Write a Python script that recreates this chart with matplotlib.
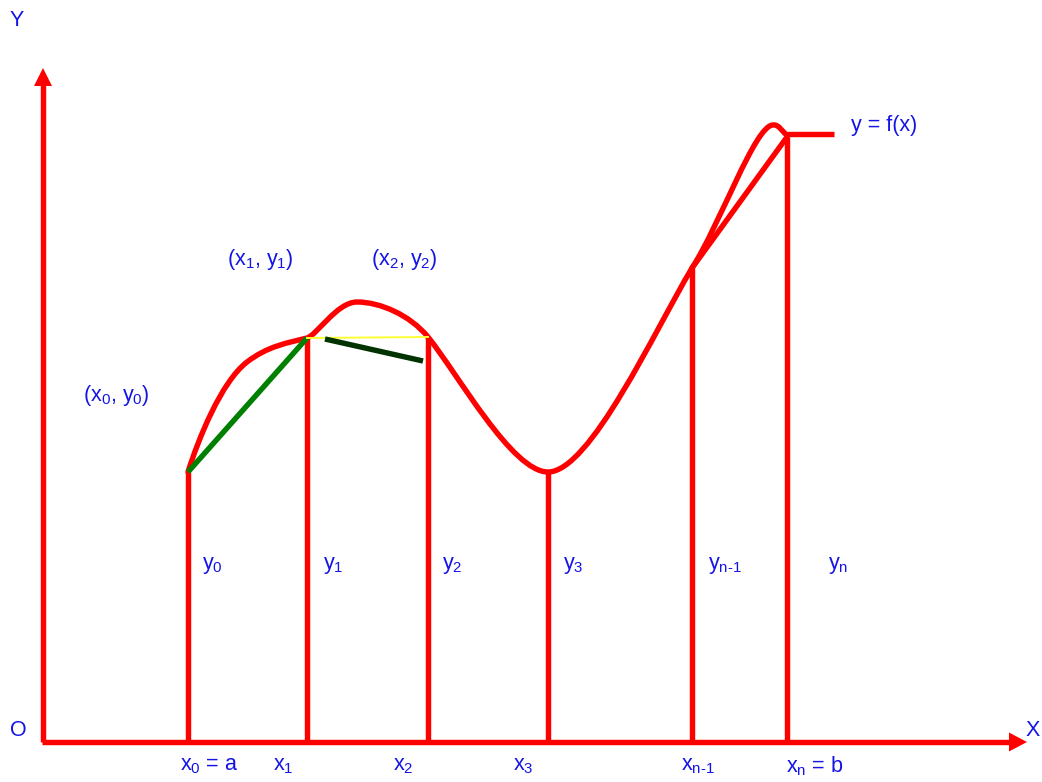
import matplotlib.pyplot as plt
from matplotlib.path import Path
from matplotlib.patches import PathPatch, Polygon

# Pontos da partição (coordenadas em pixels da figura)
no_x = [188, 307, 428, 548, 692, 787]
no_y = [472, 338, 337, 472, 268, 137]
eixo_y0 = 742
origem_x = 43

# Curva y = f(x) como segmentos de Bézier cúbica: (início, controle1, controle2, fim)
curva_pts = [
    (188, 472), (198, 440), (221, 382), (247, 362),
    (268, 346), (287, 343), (307, 338),
    (317, 335), (337, 302), (357, 302),
    (380, 302), (410, 315), (428, 337),
    (458, 374), (512, 472), (548, 472),
    (590, 472), (655, 330), (692, 268),
    (720, 225), (755, 125), (773, 125),
    (779, 124), (782, 132), (787, 135),
]
cauda_x = [787, 834]
cauda_y = [134, 134]

# Cordas
corda_verde = [(188, 472), (307, 338)]
corda_amarela = [(307, 338), (428, 337)]
corda_escura = [(325, 339), (423, 361)]
corda_final = [(692, 268), (787, 137)]

rotulos_x = ['$\\mathregular{x_0}$ = a', '$\\mathregular{x_1}$', '$\\mathregular{x_2}$',
             '$\\mathregular{x_3}$', '$\\mathregular{x_{n\\text{-}1}}$', '$\\mathregular{x_n}$ = b']
rotulos_x_pos = [209, 283, 403, 523, 698, 815]
rotulos_y = ['$\\mathregular{y_0}$', '$\\mathregular{y_1}$', '$\\mathregular{y_2}$',
             '$\\mathregular{y_3}$', '$\\mathregular{y_{n\\text{-}1}}$', '$\\mathregular{y_n}$']
rotulos_y_pos = [212, 333, 452, 573, 725, 838]
pares = ['($\\mathregular{x_0}$, $\\mathregular{y_0}$)',
         '($\\mathregular{x_1}$, $\\mathregular{y_1}$)',
         '($\\mathregular{x_2}$, $\\mathregular{y_2}$)']
pares_pos = [(116, 395), (260, 260), (404, 260)]

plt.rcParams['font.family'] = ['Liberation Sans', 'DejaVu Sans']
plt.rcParams['mathtext.fontset'] = 'custom'
plt.rcParams['mathtext.rm'] = 'Liberation Sans'

vermelho = '#ff0000'
azul = '#1414e6'
lw = 3.9

fig = plt.figure(figsize=(10.42, 7.82), dpi=100)
ax = fig.add_axes([0, 0, 1, 1])
ax.set_xlim(0, 1042)
ax.set_ylim(782, 0)
ax.axis('off')

# Eixos com setas
ax.plot([origem_x, origem_x], [eixo_y0, 84], color=vermelho, lw=lw, solid_capstyle='butt')
ax.plot([origem_x - 1, 1011], [eixo_y0, eixo_y0], color=vermelho, lw=lw, solid_capstyle='butt')
ax.add_patch(Polygon([(origem_x, 68), (origem_x - 9, 86), (origem_x + 9, 86)], color=vermelho, lw=0))
ax.add_patch(Polygon([(1027, eixo_y0), (1009, eixo_y0 - 9.5), (1009, eixo_y0 + 9.5)], color=vermelho, lw=0))

# Ordenadas
for x, y in zip(no_x, no_y):
    ax.plot([x, x], [eixo_y0, y], color=vermelho, lw=lw, solid_capstyle='butt')

# Cordas
ax.plot(*zip(*corda_verde), color='#008000', lw=lw, solid_capstyle='butt')
ax.plot(*zip(*corda_amarela), color='#ffff33', lw=1.4)
ax.plot(*zip(*corda_escura), color='#003300', lw=lw, solid_capstyle='butt')
ax.plot(*zip(*corda_final), color=vermelho, lw=lw, solid_capstyle='round')

# Curva
codigos = [Path.MOVETO] + [Path.CURVE4] * (len(curva_pts) - 1)
ax.add_patch(PathPatch(Path(curva_pts, codigos), fill=False, edgecolor=vermelho,
                       lw=lw, capstyle='round', joinstyle='round'))
ax.plot(cauda_x, cauda_y, color=vermelho, lw=lw, solid_capstyle='butt')

# Textos
fs = 15.5
ax.text(17, 20, 'Y', color=azul, fontsize=fs, ha='center', va='center')
ax.text(18, 731, 'O', color=azul, fontsize=fs, ha='center', va='center')
ax.text(1033, 730, 'X', color=azul, fontsize=fs, ha='center', va='center')
ax.text(884, 125, 'y = f(x)', color=azul, fontsize=fs, ha='center', va='center')
for txt, (x, y) in zip(pares, pares_pos):
    ax.text(x, y, txt, color=azul, fontsize=fs, ha='center', va='center')
for txt, x in zip(rotulos_x, rotulos_x_pos):
    ax.text(x, 766, txt, color=azul, fontsize=fs, ha='center', va='center')
for txt, x in zip(rotulos_y, rotulos_y_pos):
    ax.text(x, 565, txt, color=azul, fontsize=fs, ha='center', va='center')

fig.savefig('out.png', dpi=100)
